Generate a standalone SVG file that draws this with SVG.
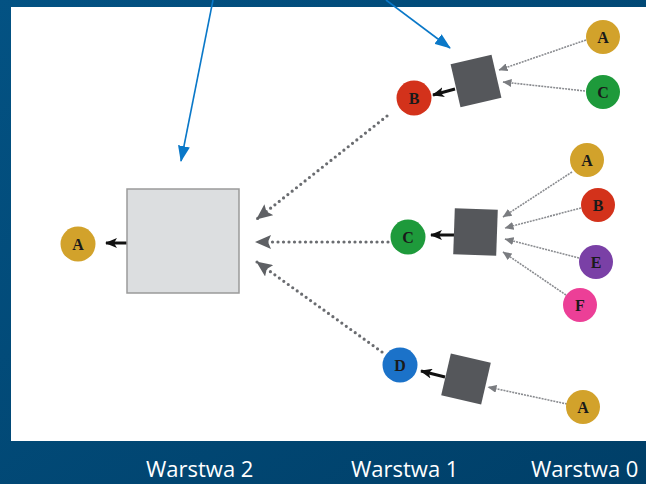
<svg xmlns="http://www.w3.org/2000/svg" width="646" height="484" viewBox="0 0 646 484">
<defs>
<linearGradient id="bg" x1="0" y1="0" x2="1" y2="1">
<stop offset="0" stop-color="#035283"/>
<stop offset="1" stop-color="#003f68"/>
</linearGradient>
<marker id="mBlue" markerUnits="userSpaceOnUse" viewBox="0 0 16 12" refX="15" refY="6" markerWidth="16" markerHeight="12" orient="auto"><path d="M0,0 L16,6 L0,12 z" fill="#0a78c8"/></marker>
<marker id="mBlack" markerUnits="userSpaceOnUse" viewBox="0 0 12 10" refX="11" refY="5" markerWidth="12" markerHeight="10" orient="auto"><path d="M0,0 L12,5 L0,10 L3,5 z" fill="#111"/></marker>
<marker id="mGray" markerUnits="userSpaceOnUse" viewBox="0 0 16 14" refX="15" refY="7" markerWidth="16" markerHeight="14" orient="auto"><path d="M0,0 L16,7 L0,14 L3,7 z" fill="#5e6064"/></marker>
<marker id="mSmall" markerUnits="userSpaceOnUse" viewBox="0 0 9 8" refX="8.5" refY="4" markerWidth="9" markerHeight="8" orient="auto"><path d="M0,0 L9,4 L0,8 z" fill="#7a7c80"/></marker>
</defs>
<style>
.lbl{font-family:"Open Sans","Liberation Sans",sans-serif;font-size:22px;fill:#ffffff}
.let{font-family:"Liberation Serif","DejaVu Serif",serif;font-weight:bold;font-size:16px;fill:#1a1a1a;text-anchor:middle}
.blue{stroke:#0a78c8;stroke-width:1.6;fill:none;marker-end:url(#mBlue)}
.black{stroke:#111;stroke-width:3;fill:none;marker-end:url(#mBlack)}
.dot{stroke:#6a6c70;stroke-width:3.2;stroke-linecap:round;stroke-dasharray:0 5.5;fill:none;marker-end:url(#mGray)}
.thin{stroke:#8a8c90;stroke-width:1.6;stroke-dasharray:2 1;fill:none;marker-end:url(#mSmall)}
.sq{fill:#55575b}
.cA{fill:#d2a22b}.cB{fill:#d3321b}.cC{fill:#1e9a3b}.cD{fill:#1b72c9}.cE{fill:#7a40a6}.cF{fill:#ec3f97}
</style>
<rect x="0" y="0" width="646" height="484" fill="url(#bg)"/>
<rect x="11" y="7" width="635" height="434" fill="#ffffff"/>

<g id="connectors">
<line class="black" x1="127" y1="243" x2="106" y2="243"/>
<line class="dot" x1="387" y1="116" x2="257" y2="219"/>
<line class="dot" x1="388" y1="242" x2="256" y2="242"/>
<line class="dot" x1="382" y1="352" x2="257" y2="262"/>
<line class="black" x1="455" y1="89" x2="433" y2="95"/>
<line class="thin" x1="586" y1="40" x2="499" y2="70"/>
<line class="thin" x1="585" y1="91" x2="503" y2="82"/>
<line class="black" x1="454" y1="235" x2="431" y2="235"/>
<line class="thin" x1="572" y1="172" x2="503" y2="217"/>
<line class="thin" x1="581" y1="208" x2="505" y2="228"/>
<line class="thin" x1="579" y1="258" x2="505" y2="239"/>
<line class="thin" x1="566" y1="295" x2="503" y2="252"/>
<line class="black" x1="445" y1="377" x2="421" y2="371"/>
<line class="thin" x1="567" y1="404" x2="488" y2="387"/>
<line class="blue" x1="213" y1="0" x2="181" y2="161"/>
<line class="blue" x1="386" y1="0" x2="450" y2="48"/>
</g>

<g id="bigSquare"><rect x="127" y="189" width="112" height="104" fill="#dcdee0" stroke="#9a9a9a" stroke-width="1.5"/></g>
<g id="nodeA_root"><circle class="cA" cx="78" cy="244" r="17.5"/><text class="let" x="78" y="249.5">A</text></g>

<g id="sqTop"><rect class="sq" x="-21" y="-22" width="42" height="44" transform="translate(476,81) rotate(-13)"/></g>
<g id="nodeB1"><circle class="cB" cx="414" cy="98" r="17.5"/><text class="let" x="414" y="103.5">B</text></g>
<g id="nodeA_t"><circle class="cA" cx="603" cy="37" r="17"/><text class="let" x="603" y="42.5">A</text></g>
<g id="nodeC_t"><circle class="cC" cx="603" cy="92" r="17"/><text class="let" x="603" y="97.5">C</text></g>

<g id="sqMid"><rect class="sq" x="-21.5" y="-23" width="43" height="46" transform="translate(475.5,232) rotate(2)"/></g>
<g id="nodeC1"><circle class="cC" cx="408" cy="237" r="17.5"/><text class="let" x="408" y="242.5">C</text></g>
<g id="nodeA_m"><circle class="cA" cx="587" cy="160" r="17"/><text class="let" x="587" y="165.5">A</text></g>
<g id="nodeB_m"><circle class="cB" cx="598" cy="205" r="17"/><text class="let" x="598" y="210.5">B</text></g>
<g id="nodeE_m"><circle class="cE" cx="596" cy="262" r="17"/><text class="let" x="596" y="267.5">E</text></g>
<g id="nodeF_m"><circle class="cF" cx="580" cy="305" r="17"/><text class="let" x="580" y="310.5">F</text></g>

<g id="sqBot"><rect class="sq" x="-20.5" y="-21.5" width="41" height="43" transform="translate(466,379) rotate(13)"/></g>
<g id="nodeD1"><circle class="cD" cx="400" cy="365" r="17.5"/><text class="let" x="400" y="370.5">D</text></g>
<g id="nodeA_b"><circle class="cA" cx="583" cy="407" r="17"/><text class="let" x="583" y="412.5">A</text></g>

<g id="labels">
<text class="lbl" x="146" y="477">Warstwa 2</text>
<text class="lbl" x="351" y="477">Warstwa 1</text>
<text class="lbl" x="531" y="477">Warstwa 0</text>
</g>
</svg>
